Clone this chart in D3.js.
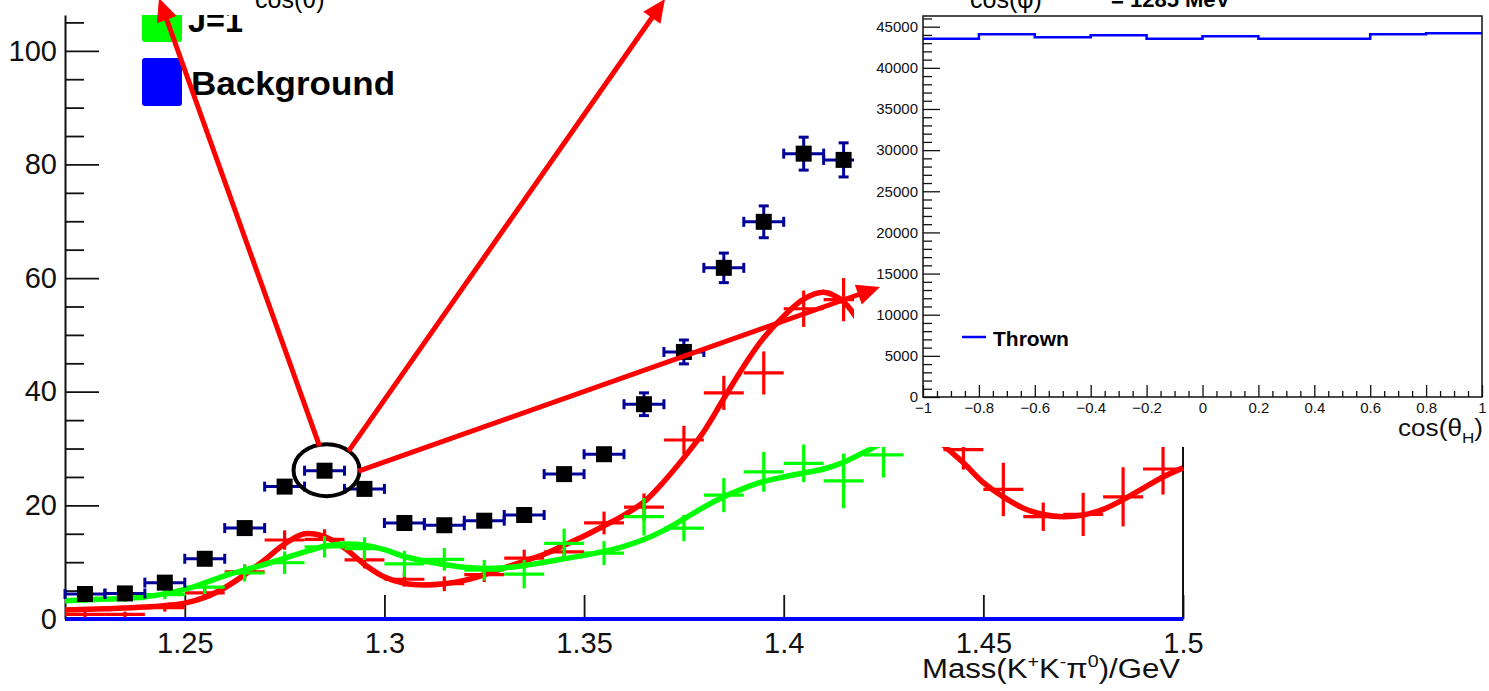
<!DOCTYPE html>
<html><head><meta charset="utf-8">
<script src="https://cdn.jsdelivr.net/npm/d3@7"></script>
<style>
html,body{margin:0;padding:0;background:#fff;}
svg{display:block;}
text{font-family:"Liberation Sans",Arial,Helvetica,sans-serif;}
</style></head><body>
<svg id="c" width="1489" height="691"></svg>
<script>
// ---------------- main plot data ----------------
const dataCenters = [1.225,1.235,1.245,1.255,1.265,1.275,1.285,1.295,1.305,1.315,1.325,1.335,1.345,1.355,1.365,1.375,1.385,1.395,1.405,1.415];
const dataValues  = [4.4,4.5,6.4,10.6,16.0,23.3,26.1,22.9,16.9,16.5,17.3,18.3,25.5,29.0,37.8,47.0,61.8,69.9,81.9,80.8];
const dataErrors  = [0.7,0.7,0.8,1.0,1.2,1.3,1.4,1.3,1.2,1.2,1.2,1.3,1.4,1.4,2.0,2.1,2.6,2.8,2.9,3.0];

const j1Centers = [1.225,1.235,1.245,1.255,1.265,1.275,1.285,1.295,1.305,1.315,1.325,1.335,1.345,1.355,1.365,1.375,1.385,1.395,1.405,1.415,1.425];
const j1Values  = [3.4,3.6,4.3,5.6,8.1,9.9,12.7,12.4,9.7,10.5,8.6,7.9,13.3,11.6,18.0,16.0,21.8,25.9,27.4,24.3,28.9];
const j1Errors  = [0.6,0.6,0.8,1.2,1.5,2.0,1.9,2.0,2.3,2.0,1.8,2.5,2.6,2.1,3.3,2.3,3.0,3.5,3.3,4.8,4.0];

const redCenters = [1.225,1.235,1.245,1.255,1.265,1.275,1.285,1.295,1.305,1.315,1.325,1.335,1.345,1.355,1.365,1.375,1.385,1.395,1.405,1.415,1.445,1.455,1.465,1.475,1.485,1.495];
const redValues  = [0.8,0.8,2.0,4.6,8.3,13.9,14.0,10.4,7.0,6.2,7.8,10.7,11.8,16.9,19.7,31.5,39.8,43.3,54.6,56.2,29.8,22.8,18.0,18.4,21.5,26.4];
const redErrors  = [0.5,0.5,0.7,1.0,1.3,1.7,1.8,1.5,1.3,1.3,1.3,1.5,1.6,2.0,2.4,2.5,3.0,3.8,3.2,3.8,3.5,4.7,2.5,3.8,5.2,4.5];

const redFitX = [1.22,1.23,1.24,1.25,1.255,1.26,1.265,1.27,1.275,1.28,1.285,1.29,1.295,1.30,1.305,1.31,1.315,1.32,1.325,1.33,1.335,1.34,1.345,1.35,1.355,1.36,1.365,1.37,1.375,1.38,1.385,1.39,1.395,1.40,1.405,1.41,1.415,1.42,1.43,1.44,1.445,1.45,1.455,1.46,1.465,1.47,1.475,1.48,1.485,1.49,1.495,1.50];
const redFitY = [1.6,1.8,2.1,2.8,3.8,5.5,7.8,10.4,13.2,15.0,14.5,12.5,9.6,7.4,6.3,6.0,6.2,6.8,7.8,9.0,10.2,11.4,13.0,14.6,16.4,18.3,20.6,24.2,28.4,33.0,38.8,44.5,49.5,53.3,56.3,57.5,55.8,51.0,38.0,30.6,27.5,24.0,21.5,19.5,18.4,18.0,18.3,19.3,21.0,23.0,25.0,26.6];

const j1FitX = [1.22,1.23,1.24,1.25,1.26,1.27,1.28,1.285,1.29,1.295,1.30,1.305,1.31,1.315,1.32,1.325,1.33,1.335,1.34,1.345,1.35,1.355,1.36,1.365,1.37,1.375,1.38,1.385,1.39,1.395,1.40,1.405,1.41,1.415,1.42,1.425,1.43];
const j1FitY = [3.2,3.5,3.9,5.2,7.6,9.6,11.8,12.8,13.2,13.0,12.2,11.0,10.2,9.6,9.1,8.9,9.0,9.4,10.0,10.6,11.2,11.9,12.8,14.0,15.6,17.6,19.7,21.5,23.0,24.2,25.0,25.7,26.4,27.6,29.3,31.0,32.5];

const bgX = [1.22, 1.5];
const bgY = [0, 0];

const xTickLabels = ["1.25","1.3","1.35","1.4","1.45","1.5"];
const yTickLabels = ["0","20","40","60","80","100"];
const legendLabels = ["J=1","Background"];

// ---------------- inset data ----------------
const thrownEdges  = [-1,-0.8,-0.6,-0.4,-0.2,0,0.2,0.4,0.6,0.8,1];
const thrownCounts = [43550,44080,43710,43950,43550,43830,43550,43550,44080,44200];
const insetXTickLabels = ["\u22121","\u22120.8","\u22120.6","\u22120.4","\u22120.2","0","0.2","0.4","0.6","0.8","1"];
const insetYTickLabels = ["0","5000","10000","15000","20000","25000","30000","35000","40000","45000"];

// ---------------- drawing ----------------
const svg = d3.select("#c");
svg.append("rect").attr("width",1489).attr("height",691).attr("fill","#fff");

const x = d3.scaleLinear().domain([1.22,1.5]).range([65,1183]);
const y = d3.scaleLinear().domain([0,106.3]).range([619,15]);
const half = 0.005;
const FONT = "'Liberation Sans',Arial,Helvetica,sans-serif";

function styleAxis(g, size){
  g.attr("font-family",FONT).attr("font-size",size);
  g.selectAll(".tick line").attr("stroke","#111").attr("stroke-width",1.8);
  g.selectAll(".tick text").attr("fill","#111");
}

// x axis ticks
const xMajor = xTickLabels.map(Number);
const xMid = d3.range(22,51).map(i=>i/100).filter(v=>!xMajor.some(m=>Math.abs(m-v)<1e-9));
const xSmall = d3.range(22,50).map(i=>i/100+0.005);
const gx = svg.append("g").attr("transform","translate(0,619)");
gx.append("g").call(d3.axisBottom(x).tickValues(xSmall).tickSizeInner(-5).tickSizeOuter(0).tickFormat("")).call(g=>{g.select(".domain").remove();styleAxis(g,29);});
gx.append("g").call(d3.axisBottom(x).tickValues(xMid).tickSizeInner(-12).tickSizeOuter(0).tickFormat("")).call(g=>{g.select(".domain").remove();styleAxis(g,29);});
gx.append("g").call(d3.axisBottom(x).tickValues(xMajor).tickSizeInner(-24).tickSizeOuter(0).tickPadding(13).tickFormat((d,i)=>xTickLabels[i]))
  .call(g=>{g.select(".domain").attr("stroke","#111").attr("stroke-width",2);styleAxis(g,29);});

// y axis ticks
const yMajor = yTickLabels.map(Number);
const yMinor = d3.range(0,106,5).filter(v=>v%20!==0);
const gy = svg.append("g").attr("transform","translate(65,0)");
gy.append("g").call(d3.axisLeft(y).tickValues(yMinor).tickSizeInner(-19).tickSizeOuter(0).tickFormat("")).call(g=>{g.select(".domain").remove();styleAxis(g,29);});
gy.append("g").call(d3.axisLeft(y).tickValues(yMajor).tickSizeInner(-34).tickSizeOuter(0).tickPadding(8).tickFormat((d,i)=>yTickLabels[i]))
  .call(g=>{g.select(".domain").attr("stroke","#111").attr("stroke-width",2);styleAxis(g,29);});

// right frame line
svg.append("line").attr("x1",x(1.5)).attr("x2",x(1.5)).attr("y1",y(0)).attr("y2",y(106.3)).attr("stroke","#111").attr("stroke-width",2);

// x title
const xt = svg.append("text").attr("x",922).attr("y",678).attr("font-size",27).attr("fill","#111")
  .attr("textLength",258).attr("lengthAdjust","spacingAndGlyphs");
xt.append("tspan").text("Mass(K");
xt.append("tspan").attr("font-size",17).attr("dy",-11).text("+");
xt.append("tspan").attr("dy",11).text("K");
xt.append("tspan").attr("font-size",17).attr("dy",-11).text("-");
xt.append("tspan").attr("dy",11).text("\u03c0");
xt.append("tspan").attr("font-size",17).attr("dy",-11).text("0");
xt.append("tspan").attr("dy",11).text(")/GeV");

// background line
svg.append("path").datum(bgX.map((v,i)=>[v,bgY[i]]))
  .attr("d",d3.line().x(d=>x(d[0])).y(d=>y(d[1])))
  .attr("stroke","#0000ff").attr("stroke-width",4).attr("fill","none");

// crosses helper
function crosses(centers, values, errors, color){
  const g = svg.append("g").attr("stroke",color).attr("stroke-width",3.2);
  centers.forEach((c,i)=>{
    g.append("line").attr("x1",x(c-half)).attr("x2",x(c+half)).attr("y1",y(values[i])).attr("y2",y(values[i]));
    g.append("line").attr("x1",x(c)).attr("x2",x(c)).attr("y1",y(values[i]-errors[i])).attr("y2",y(values[i]+errors[i]));
  });
}
const fitLine = d3.line().x(d=>x(d[0])).y(d=>y(d[1])).curve(d3.curveCatmullRom.alpha(0.5));

crosses(redCenters, redValues, redErrors, "#ff0000");
svg.append("path").datum(redFitX.map((v,i)=>[v,redFitY[i]])).attr("d",fitLine)
  .attr("stroke","#ff0000").attr("stroke-width",5.5).attr("fill","none");
crosses(j1Centers, j1Values, j1Errors, "#00ff00");
svg.append("path").datum(j1FitX.map((v,i)=>[v,j1FitY[i]])).attr("d",fitLine)
  .attr("stroke","#00ff00").attr("stroke-width",5.5).attr("fill","none");

// data points with error bars
const gd = svg.append("g");
const EB = "#000099", MS = 8;
dataCenters.forEach((c,i)=>{
  const cx = x(c), cy = y(dataValues[i]);
  const x0 = x(c-half), x1 = x(c+half);
  const yt = y(dataValues[i]+dataErrors[i]), yb = y(dataValues[i]-dataErrors[i]);
  gd.append("line").attr("x1",x0).attr("x2",x1).attr("y1",cy).attr("y2",cy).attr("stroke",EB).attr("stroke-width",3);
  gd.append("line").attr("x1",x0).attr("x2",x0).attr("y1",cy-5).attr("y2",cy+5).attr("stroke",EB).attr("stroke-width",3);
  gd.append("line").attr("x1",x1).attr("x2",x1).attr("y1",cy-5).attr("y2",cy+5).attr("stroke",EB).attr("stroke-width",3);
  if (cy-yt > MS+1){
    gd.append("line").attr("x1",cx).attr("x2",cx).attr("y1",yt).attr("y2",yb).attr("stroke",EB).attr("stroke-width",3);
    gd.append("line").attr("x1",cx-5).attr("x2",cx+5).attr("y1",yt).attr("y2",yt).attr("stroke",EB).attr("stroke-width",3);
    gd.append("line").attr("x1",cx-5).attr("x2",cx+5).attr("y1",yb).attr("y2",yb).attr("stroke",EB).attr("stroke-width",3);
  }
  gd.append("rect").attr("x",cx-MS).attr("y",cy-MS).attr("width",2*MS).attr("height",2*MS).attr("fill","#000");
});

// legend
svg.append("rect").attr("x",142).attr("y",-6).attr("width",40).attr("height",48).attr("rx",3).attr("fill","#00ff00");
svg.append("text").attr("x",188).attr("y",32).attr("font-size",34).attr("font-weight","bold").attr("fill","#000")
  .attr("textLength",55).attr("lengthAdjust","spacingAndGlyphs").text(legendLabels[0]);
svg.append("rect").attr("x",142).attr("y",58).attr("width",40).attr("height",48).attr("rx",3).attr("fill","#0000ff");
svg.append("text").attr("x",191).attr("y",95).attr("font-size",34).attr("font-weight","bold").attr("fill","#000")
  .attr("textLength",204).attr("lengthAdjust","spacingAndGlyphs").text(legendLabels[1]);

// top white overlay strip
svg.append("rect").attr("x",0).attr("y",0).attr("width",854).attr("height",15).attr("fill","#fff");
svg.append("text").attr("x",255).attr("y",7.5).attr("font-size",25).attr("fill","#000").text("cos(\u03b8)");

// ---------------- inset ----------------
svg.append("rect").attr("x",854).attr("y",0).attr("width",635).attr("height",447).attr("fill","#fff");
const xi = d3.scaleLinear().domain([-1,1]).range([923,1482]);
const yi = d3.scaleLinear().domain([0,46300]).range([397,16]);

const ixMajor = insetXTickLabels.map(s=>Number(s.replace("\u2212","-")));
const ixMinor = d3.range(-100,101,5).map(v=>v/100).filter(v=>!ixMajor.some(m=>Math.abs(m-v)<1e-9));
const gix = svg.append("g").attr("transform","translate(0,397)");
gix.append("g").call(d3.axisBottom(xi).tickValues(ixMinor).tickSizeInner(-6).tickSizeOuter(0).tickFormat("")).call(g=>{g.select(".domain").remove();styleAxis(g,15);g.selectAll(".tick line").attr("stroke-width",1.3);});
gix.append("g").call(d3.axisBottom(xi).tickValues(ixMajor).tickSizeInner(-12).tickSizeOuter(0).tickPadding(5).tickFormat((d,i)=>insetXTickLabels[i]))
  .call(g=>{g.select(".domain").remove();styleAxis(g,15);g.selectAll(".tick line").attr("stroke-width",1.3);});

const iyMajor = insetYTickLabels.map(Number);
const iyMinor = d3.range(0,46001,1000).filter(v=>v%5000!==0);
const giy = svg.append("g").attr("transform","translate(923,0)");
giy.append("g").call(d3.axisLeft(yi).tickValues(iyMinor).tickSizeInner(-9).tickSizeOuter(0).tickFormat("")).call(g=>{g.select(".domain").remove();styleAxis(g,15);g.selectAll(".tick line").attr("stroke-width",1.3);});
giy.append("g").call(d3.axisLeft(yi).tickValues(iyMajor).tickSizeInner(-17).tickSizeOuter(0).tickPadding(5).tickFormat((d,i)=>insetYTickLabels[i]))
  .call(g=>{g.select(".domain").remove();styleAxis(g,15);g.selectAll(".tick line").attr("stroke-width",1.3);});

// frame
svg.append("rect").attr("x",xi(-1)).attr("y",yi(46300)).attr("width",xi(1)-xi(-1)).attr("height",yi(0)-yi(46300))
  .attr("fill","none").attr("stroke","#111").attr("stroke-width",1.5);

// thrown histogram
const stepPts = thrownCounts.map((v,i)=>[thrownEdges[i],v]);
stepPts.push([thrownEdges[thrownEdges.length-1], thrownCounts[thrownCounts.length-1]]);
svg.append("path").datum(stepPts)
  .attr("d",d3.line().x(d=>xi(d[0])).y(d=>yi(d[1])).curve(d3.curveStepAfter))
  .attr("stroke","#0000ff").attr("stroke-width",2.5).attr("fill","none");

// inset legend
svg.append("line").attr("x1",962).attr("x2",986).attr("y1",337).attr("y2",337).attr("stroke","#0000ff").attr("stroke-width",2.5);
svg.append("text").attr("x",993).attr("y",346).attr("font-size",21).attr("font-weight","bold").attr("fill","#000").text("Thrown");

// inset axis title
const it = svg.append("text").attr("x",1398).attr("y",436).attr("font-size",23).attr("fill","#111")
  .attr("textLength",85).attr("lengthAdjust","spacingAndGlyphs");
it.append("tspan").text("cos(\u03b8");
it.append("tspan").attr("font-size",15).attr("dy",7).text("H");
it.append("tspan").attr("dy",-7).text(")");

// inset title (cut at top)
svg.append("text").attr("x",970).attr("y",7.5).attr("font-size",25).attr("fill","#000").text("cos(\u03c6)");
svg.append("text").attr("x",1111).attr("y",6.5).attr("font-size",22).attr("font-weight","bold").attr("fill","#000").text("= 1285 MeV");

// ---------------- annotations ----------------
const ell = {c:1.2855, v:26.2};
svg.append("ellipse").attr("cx",x(ell.c)).attr("cy",y(ell.v)).attr("rx",33).attr("ry",26)
  .attr("fill","none").attr("stroke","#000").attr("stroke-width",4);

function arrow(x1,y1,x2,y2){
  const a = Math.atan2(y2-y1,x2-x1), L=23, W=10.5;
  const bx = x2-L*Math.cos(a), by = y2-L*Math.sin(a);
  svg.append("line").attr("x1",x1).attr("y1",y1).attr("x2",bx+2*Math.cos(a)).attr("y2",by+2*Math.sin(a))
    .attr("stroke","#ff0000").attr("stroke-width",5);
  svg.append("polygon").attr("points",[[x2,y2],[bx+W*Math.sin(a),by-W*Math.cos(a)],[bx-W*Math.sin(a),by+W*Math.cos(a)]].map(p=>p.join(",")).join(" "))
    .attr("fill","#ff0000");
}
const ecx = x(ell.c), ecy = y(ell.v);
arrow(ecx-7, ecy-24, 159, -2);
arrow(ecx+22, ecy-19, 665, -1);
arrow(ecx+32, ecy+1, 880, 287);
</script>
</body></html>
